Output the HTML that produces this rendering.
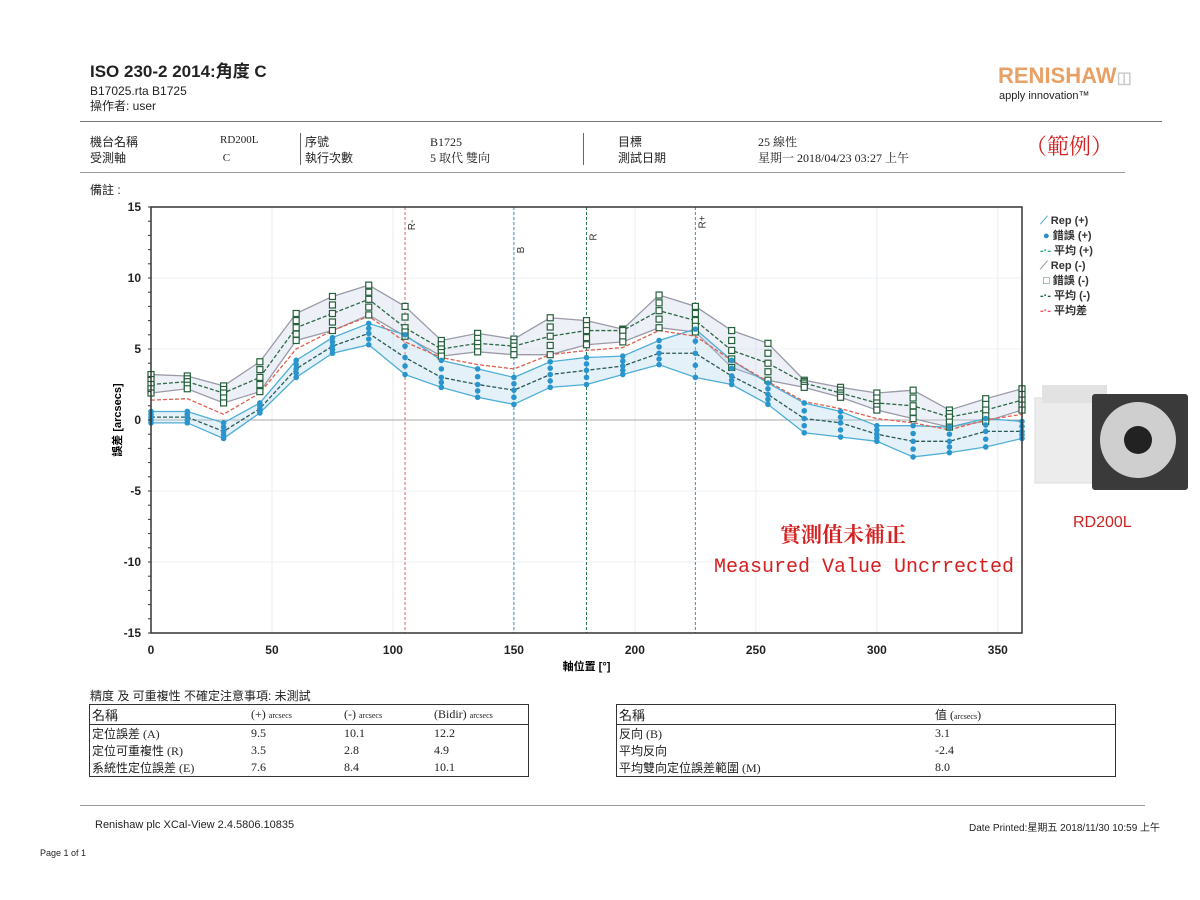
<!DOCTYPE html>
<html><head><meta charset="utf-8">
<style>
body{margin:0;width:1200px;height:900px;background:#fff;position:relative;overflow:hidden;font-family:"Liberation Sans","Noto Sans CJK TC",sans-serif;color:#222}
.a{position:absolute;white-space:nowrap}
.serif{font-family:"Liberation Serif","Noto Serif CJK SC",serif}
table{border-collapse:collapse;font-family:"Liberation Serif","Noto Sans CJK TC",serif;font-size:12px;table-layout:fixed}
td{padding:0 2px;height:16px;overflow:hidden;white-space:nowrap}
small{font-size:8px}
</style></head><body>
<div class="a" style="left:90px;top:62px;font-size:17px;line-height:20px;font-weight:bold">ISO 230-2 2014:角度 C</div>
<div class="a" style="left:90px;top:84px;font-size:12px;line-height:14px">B17025.rta B1725</div>
<div class="a" style="left:90px;top:99px;font-size:12px;line-height:14px">操作者: user</div>
<div class="a" style="left:998px;top:63px;font-size:22px;font-weight:bold;color:#e8a065">RENISHAW<span style="color:#ccc;font-size:16px">◫</span></div>
<div class="a" style="left:999px;top:90px;font-size:11px">apply innovation™</div>
<div class="a" style="left:80px;top:121px;width:1082px;height:1px;background:#777"></div>
<div class="a" style="left:80px;top:172px;width:1045px;height:1px;background:#999"></div>
<div class="a" style="left:300px;top:133px;width:1px;height:32px;background:#666"></div>
<div class="a" style="left:583px;top:133px;width:1px;height:32px;background:#666"></div>
<div class="a" style="left:90px;top:134px;font-size:12px;line-height:16px">機台名稱<br>受測軸</div>
<div class="a serif" style="left:220px;top:131px;font-size:11px;line-height:18px">RD200L<br>&nbsp;C</div>
<div class="a" style="left:305px;top:134px;font-size:12px;line-height:16px">序號<br>執行次數</div>
<div class="a serif" style="left:430px;top:134px;font-size:12px;line-height:16px">B1725<br>5 取代 雙向</div>
<div class="a" style="left:618px;top:134px;font-size:12px;line-height:16px">目標<br>測試日期</div>
<div class="a serif" style="left:758px;top:134px;font-size:12px;line-height:16px">25 線性<br>星期一 2018/04/23 03:27 上午</div>
<div class="a serif" style="left:1025px;top:130px;font-size:22px;color:#d42020">（範例）</div>
<div class="a" style="left:90px;top:181px;font-size:12px">備註 :</div>

<svg class="a" style="left:0;top:0" width="1200" height="900">
<g id="grid"></g><g id="marks"></g><g id="axes"></g>
</svg>

<div class="a" style="left:1040px;top:214px;font-size:11px;line-height:15px;font-weight:bold;color:#333">
<div><span style="color:#5aa9cf">⟋</span> Rep (+)</div>
<div><span style="color:#2a8fc4">&nbsp;●</span> 錯誤 (+)</div>
<div><span style="color:#2a7">-·-</span> 平均 (+)</div>
<div><span style="color:#999">⟋</span> Rep (-)</div>
<div><span style="color:#265">&nbsp;□</span> 錯誤 (-)</div>
<div><span style="color:#265">-·-</span> 平均 (-)</div>
<div><span style="color:#e55">-·-</span> 平均差</div>
</div>

<svg class="a" style="left:1030px;top:380px" width="165" height="115">
<rect x="5" y="18" width="85" height="85" fill="#ececec" stroke="#ddd"/>
<rect x="12" y="5" width="65" height="18" fill="#e2e2e2"/>
<rect x="62" y="14" width="96" height="96" rx="3" fill="#3a3a3a"/>
<circle cx="108" cy="60" r="38" fill="#cfcfcf"/>
<circle cx="108" cy="60" r="14" fill="#222"/>
</svg>
<div class="a" style="left:1073px;top:514px;font-size:16px;color:#c22">RD200L</div>

<div class="a" style="left:780px;top:519px;font-size:21px;color:#d42020;font-family:'Liberation Serif','Noto Serif CJK SC',serif;font-weight:bold">實測值未補正</div>
<div class="a" style="left:714px;top:556px;font-size:20px;color:#d42020;font-family:'Liberation Mono',monospace">Measured Value Uncrrected</div>

<div class="a" style="left:90px;top:687px;font-size:12px">精度 及 可重複性 不確定注意事項: 未測試</div>
<table class="a" style="left:89px;top:704px;width:440px;border:1.5px solid #333">
<tr style="border-bottom:1.5px solid #333"><td style="width:155px;font-size:13px">名稱</td><td style="width:89px">(+) <small>arcsecs</small></td><td style="width:86px">(-) <small>arcsecs</small></td><td>(Bidir) <small>arcsecs</small></td></tr>
<tr><td>定位誤差 (A)</td><td>9.5</td><td>10.1</td><td>12.2</td></tr>
<tr><td>定位可重複性 (R)</td><td>3.5</td><td>2.8</td><td>4.9</td></tr>
<tr><td>系統性定位誤差 (E)</td><td>7.6</td><td>8.4</td><td>10.1</td></tr>
</table>
<table class="a" style="left:616px;top:704px;width:500px;border:1.5px solid #333">
<tr style="border-bottom:1.5px solid #333"><td style="width:312px;font-size:13px">名稱</td><td>值 (<small>arcsecs</small>)</td></tr>
<tr><td>反向 (B)</td><td>3.1</td></tr>
<tr><td>平均反向</td><td>-2.4</td></tr>
<tr><td>平均雙向定位誤差範圍 (M)</td><td>8.0</td></tr>
</table>

<div class="a" style="left:80px;top:805px;width:1065px;height:1px;background:#999"></div>
<div class="a" style="left:95px;top:819px;font-size:11px">Renishaw plc XCal-View 2.4.5806.10835</div>
<div class="a" style="left:969px;top:819px;font-size:10px">Date Printed:星期五 2018/11/30 10:59 上午</div>
<div class="a" style="left:40px;top:848px;font-size:9px">Page 1 of 1</div>

<script>
const positions=[0,15,30,45,60,75,90,105,120,135,150,165,180,195,210,225,240,255,270,285,300,315,330,345,360];
const meanMinus=[2.5,2.7,1.9,3.0,6.5,7.5,8.5,6.5,5.0,5.4,5.2,5.9,6.3,6.3,7.7,7.0,4.9,4.0,2.6,1.9,1.2,1.0,0.2,0.7,1.4];
const repMinusHi=[3.2,3.1,2.4,4.1,7.5,8.7,9.5,8.0,5.6,6.1,5.7,7.2,7.0,6.4,8.8,8.0,6.3,5.4,2.8,2.3,1.9,2.1,0.7,1.5,2.2];
const repMinusLo=[1.9,2.2,1.2,2.0,5.6,6.3,7.4,5.9,4.5,4.8,4.6,4.6,5.3,5.5,6.5,6.2,3.7,2.8,2.3,1.6,0.7,0.1,-0.5,-0.1,0.7];
const meanPlus=[0.2,0.2,-0.8,0.8,3.6,5.2,6.1,4.4,3.0,2.5,2.1,3.2,3.5,3.8,4.7,4.7,3.1,1.8,0.1,-0.2,-1.0,-1.5,-1.5,-0.8,-0.8];
const repPlusHi=[0.6,0.6,-0.2,1.2,4.2,5.8,6.8,6.0,4.2,3.6,3.0,4.1,4.4,4.5,5.6,6.4,4.2,2.6,1.2,0.6,-0.4,-0.4,-0.5,0.1,-0.1];
const repPlusLo=[-0.2,-0.2,-1.3,0.5,3.0,4.7,5.3,3.2,2.3,1.6,1.1,2.3,2.5,3.2,3.9,3.0,2.5,1.1,-0.9,-1.2,-1.5,-2.6,-2.3,-1.9,-1.3];
const meanBidir=[1.4,1.5,0.4,1.9,5.0,6.3,7.3,5.5,4.4,3.9,3.6,4.6,4.9,5.1,6.3,5.9,4.2,2.7,1.3,0.8,0.1,-0.2,-0.7,0,0.4];
const xTicks=[0,50,100,150,200,250,300,350];
const yTicks=[15,10,5,0,-5,-10,-15];
const refLines=[{v:105,t:'R-',c:'#d66'},{v:150,t:'B',c:'#3a8fc0'},{v:180,t:'R',c:'#2a7a4a'},{v:225,t:'R+',c:'#3a8fc0'}];

const X0=151,X1=1022,Y0=207,Y1=633;
const xs=v=>X0+(v/360)*(X1-X0);
const ys=v=>Y0+(15-v)/30*(Y1-Y0);
const NS='http://www.w3.org/2000/svg';
function mk(tag,attrs,parent){const e=document.createElementNS(NS,tag);for(const k in attrs)e.setAttribute(k,attrs[k]);parent.appendChild(e);return e;}
const grid=document.getElementById('grid'),marks=document.getElementById('marks'),axes=document.getElementById('axes');

xTicks.forEach(v=>{const l=mk('line',{x1:xs(v),x2:xs(v),y1:Y0,y2:Y1,stroke:'#e6edf2','stroke-width':1},grid);


const t=mk('text',{x:xs(v),y:Y1+21,'font-size':12,'font-weight':'bold','text-anchor':'middle','font-family':'Liberation Sans',fill:'#222'},axes);t.textContent=v;

});
yTicks.forEach(v=>{const l=mk('line',{x1:X0,x2:X1,y1:ys(v),y2:ys(v),stroke:v===0?'#aaa':'#eef2f5','stroke-width':1},grid);


const t=mk('text',{x:X0-10,y:ys(v)+4,'font-size':12,'font-weight':'bold','text-anchor':'end','font-family':'Liberation Sans',fill:'#222'},axes);t.textContent=v;

});
for(let v=-15;v<=15;v+=1){mk('line',{x1:X0-3,x2:X0,y1:ys(v),y2:ys(v),stroke:'#333'},axes);}
mk('rect',{x:X0,y:Y0,width:X1-X0,height:Y1-Y0,fill:'none',stroke:'#333','stroke-width':1.5},axes);
const xt=mk('text',{x:(X0+X1)/2,y:Y1+37,'font-size':11,'font-weight':'bold','text-anchor':'middle'},axes);xt.textContent='軸位置 [°]';


const yt=mk('text',{x:0,y:0,'font-size':11,'font-weight':'bold','text-anchor':'middle',transform:`translate(121,${ys(0)}) rotate(-90)`},axes);yt.textContent='誤差 [arcsecs]';



refLines.forEach((r,i)=>{const l=mk('line',{x1:xs(r.v),x2:xs(r.v),y1:Y0,y2:Y1,stroke:r.c,'stroke-dasharray':'3,2','stroke-width':1},marks);


const ty=[225,250,237,222][i];
const t=mk('text',{x:0,y:0,'font-size':10,fill:'#333',transform:`translate(${xs(r.v)+10},${ty}) rotate(-90)`,'text-anchor':'middle'},marks);t.textContent=r.t;

});

function band(hi,lo,fill,stroke,name){
 const pts=positions.map((p,i)=>xs(p)+','+ys(hi[i])).concat(positions.slice().reverse().map((p,j)=>{const i=positions.length-1-j;return xs(p)+','+ys(lo[i]);}));
 const pg=mk('polygon',{points:pts.join(' '),fill:fill,stroke:'none'},marks);
 
 
 [hi,lo].forEach(arr=>{const pl=mk('polyline',{points:positions.map((p,i)=>xs(p)+','+ys(arr[i])).join(' '),fill:'none',stroke:stroke,'stroke-width':1.3},marks);
 
 });
}
band(repMinusHi,repMinusLo,'rgba(200,205,230,0.3)','#9a9aa8','rep-minus-band');
band(repPlusHi,repPlusLo,'rgba(170,210,235,0.3)','#4eaed6','rep-plus-band');
function line(arr,color,name){const pl=mk('polyline',{points:positions.map((p,i)=>xs(p)+','+ys(arr[i])).join(' '),fill:'none',stroke:color,'stroke-width':1.3,'stroke-dasharray':'4,2'},marks);

}
line(meanBidir,'#e06050','mean-bidirectional');
line(meanMinus,'#2a6a45','mean-minus');
line(meanPlus,'#2a5a55','mean-plus');
positions.forEach((p,i)=>{
 [repMinusHi[i],(repMinusHi[i]+meanMinus[i])/2,meanMinus[i],(repMinusLo[i]+meanMinus[i])/2,repMinusLo[i]].forEach(v=>{
  const r=mk('rect',{x:xs(p)-3,y:ys(v)-3,width:6,height:6,fill:'#fff',stroke:'#25603c','stroke-width':1.2},marks);
  
  });
 [repPlusHi[i],(repPlusHi[i]+meanPlus[i])/2,meanPlus[i],(repPlusLo[i]+meanPlus[i])/2,repPlusLo[i]].forEach(v=>{
  const c=mk('circle',{cx:xs(p),cy:ys(v),r:2.8,fill:'#2a95cc'},marks);
  
  });
});
</script>
</body></html>
